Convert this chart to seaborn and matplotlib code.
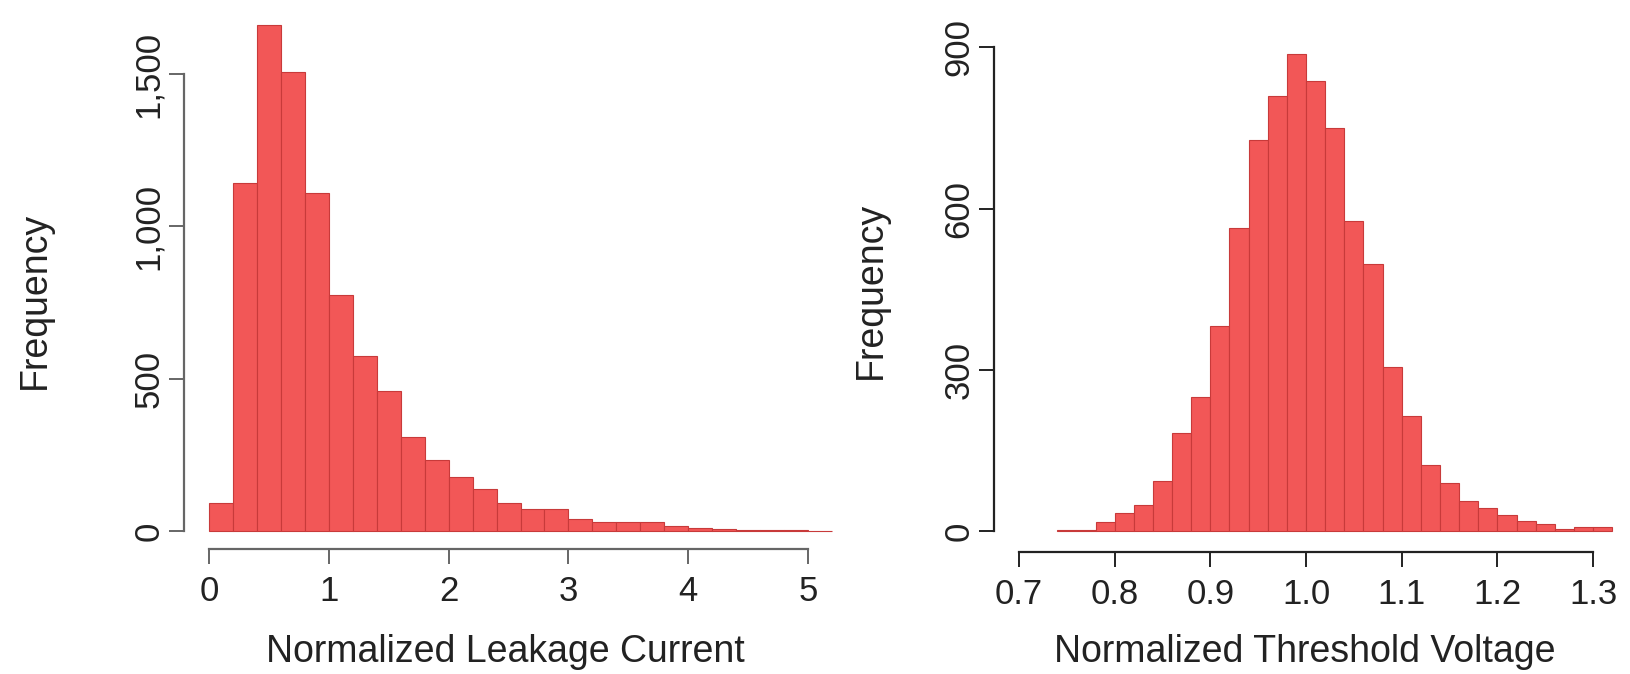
import numpy as np
import pandas as pd
import matplotlib
matplotlib.use("Agg")
import matplotlib.pyplot as plt
import seaborn as sns

# ---------------- data ----------------
leak_bin_start = 0.0
leak_bin_width = 0.2
leak_counts = [92, 1142, 1661, 1506, 1109, 776, 574, 459, 310, 233, 176, 138,
               92, 71, 71, 40, 31, 31, 31, 18, 10, 6, 3, 2, 2, 1]
leak_xticks = [0, 1, 2, 3, 4, 5]
leak_xticklabels = ["0", "1", "2", "3", "4", "5"]
leak_yticks = [0, 500, 1000, 1500]
leak_yticklabels = ["0", "500", "1,000", "1,500"]

vth_bin_start = 0.74
vth_bin_width = 0.02
vth_counts = [2, 2, 17, 33, 48, 93, 182, 250, 382, 564, 728, 810, 888, 838,
              750, 576, 496, 306, 214, 122, 90, 56, 42, 30, 19, 13, 3, 8, 8]
vth_xticks = [0.7, 0.8, 0.9, 1.0, 1.1, 1.2, 1.3]
vth_xticklabels = ["0.7", "0.8", "0.9", "1.0", "1.1", "1.2", "1.3"]
vth_yticks = [0, 300, 600, 900]
vth_yticklabels = ["0", "300", "600", "900"]

xlabel_left = "Normalized Leakage Current"
xlabel_right = "Normalized Threshold Voltage"
ylabel = "Frequency"

# ---------------- style ----------------
sns.set_style("white")
plt.rcParams['font.family'] = ['Liberation Sans', 'DejaVu Sans']

FILL = "#F25757"
EDGE = "#C83A3A"
TICK_FS = 25
LAB_FS = 27

W, H = 1630, 674
fig = plt.figure(figsize=(W / 100, H / 100), dpi=100)


def px_axes(left, right, top, bottom):
    return fig.add_axes([left / W, 1 - bottom / H, (right - left) / W, (bottom - top) / H])


def make_df(start, width, counts):
    n = len(counts)
    edges = [round(start + width * i, 6) for i in range(n + 1)]
    centers = [(edges[i] + edges[i + 1]) / 2 for i in range(n)]
    return pd.DataFrame({"x": centers, "w": counts}), edges


def style_axes(ax, xb, yb, xticks, xtl, yticks, ytl, axcol):
    for s in ["top", "right"]:
        ax.spines[s].set_visible(False)
    for s in ["left", "bottom"]:
        ax.spines[s].set_color(axcol)
        ax.spines[s].set_linewidth(1.6)
    ax.spines["bottom"].set_bounds(*xb)
    ax.spines["left"].set_bounds(*yb)
    ax.set_xticks(xticks)
    ax.set_xticklabels(xtl)
    ax.set_yticks(yticks)
    ax.set_yticklabels(ytl, rotation=90, va="center")
    ax.tick_params(axis="both", which="major", direction="out", bottom=True,
                   left=True, width=1.4, color=axcol, labelsize=TICK_FS,
                   labelcolor="#222222")
    ax.tick_params(axis="x", length=11, pad=8)
    ax.tick_params(axis="y", length=10.5, pad=3)
    ax.grid(False)


# left panel
ax1 = px_axes(184, 838, 13, 549)
df1, e1 = make_df(leak_bin_start, leak_bin_width, leak_counts)
sns.histplot(data=df1, x="x", weights="w", bins=e1, ax=ax1, color=FILL,
             edgecolor=EDGE, linewidth=0.8, alpha=1)
ax1.set_xlim(-0.209, 5.25)
ax1.set_ylim(-59, 1700)
style_axes(ax1, (0, 5), (0, 1500), leak_xticks, leak_xticklabels,
           leak_yticks, leak_yticklabels, "#666666")
ax1.set_xlabel(xlabel_left, fontsize=LAB_FS, color="#222222")
ax1.set_ylabel(ylabel, fontsize=LAB_FS, color="#222222")
ax1.xaxis.set_label_coords((505 - 184) / (838 - 184), -(652 - 549) / (549 - 13))
ax1.xaxis.label.set_va("center")
ax1.yaxis.set_label_coords(-(184 - 35) / (838 - 184), (549 - 300) / (549 - 13))
ax1.yaxis.label.set_va("center")

# right panel
ax2 = px_axes(994, 1617, 15, 552)
df2, e2 = make_df(vth_bin_start, vth_bin_width, vth_counts)
sns.histplot(data=df2, x="x", weights="w", bins=e2, ax=ax2, color=FILL,
             edgecolor=EDGE, linewidth=0.8, alpha=1)
ax2.set_xlim(0.6739, 1.325)
ax2.set_ylim(-39, 960)
style_axes(ax2, (0.7, 1.3), (0, 900), vth_xticks, vth_xticklabels,
           vth_yticks, vth_yticklabels, "#222222")
ax2.set_xlabel(xlabel_right, fontsize=LAB_FS, color="#222222")
ax2.set_ylabel(ylabel, fontsize=LAB_FS, color="#222222")
ax2.xaxis.set_label_coords((1305 - 994) / (1617 - 994), -(652 - 552) / (552 - 15))
ax2.xaxis.label.set_va("center")
ax2.yaxis.set_label_coords(-(994 - 871) / (1617 - 994), (552 - 290) / (552 - 15))
ax2.yaxis.label.set_va("center")

fig.savefig("out.png", dpi=100)
